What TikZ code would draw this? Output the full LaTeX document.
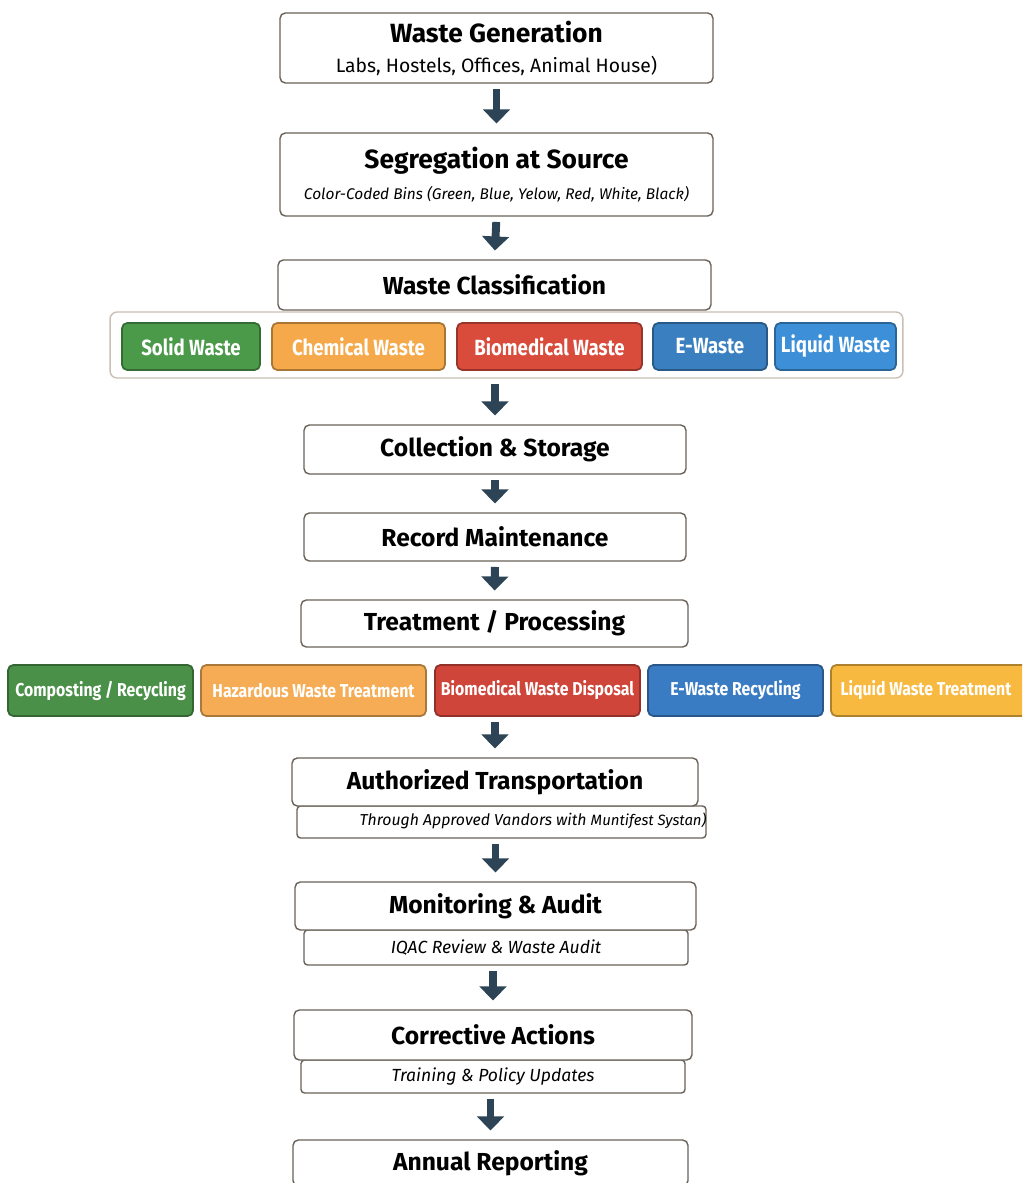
\documentclass[tikz,border=0pt]{standalone}
\usepackage{fontspec}
\setmainfont{Fira Sans}
\newfontfamily\chipfont{Fira Sans}[FakeStretch=0.85]
\usetikzlibrary{arrows.meta}
\usetikzlibrary{positioning}

\definecolor{boxline}{HTML}{6B625A}
\definecolor{barline}{HTML}{C9BFB5}
\definecolor{arrowblue}{HTML}{2C4455}
\definecolor{solidgreen}{HTML}{4A9A4A}
\definecolor{chemorange}{HTML}{F5A94A}
\definecolor{bioRed}{HTML}{D94C3C}
\definecolor{eblue}{HTML}{3A7FC0}
\definecolor{liqblue}{HTML}{3D90D8}
\definecolor{compgreen}{HTML}{4A9048}
\definecolor{hazorange}{HTML}{F5AC55}
\definecolor{dispred}{HTML}{D0453A}
\definecolor{erecblue}{HTML}{3A7CC4}
\definecolor{ltryellow}{HTML}{F7B940}

\begin{document}
\begin{tikzpicture}[x=0.02cm,y=-0.02cm,
  stepbox/.style={draw=boxline,line width=0.8pt,rounded corners=3pt,fill=white,minimum width=8.66cm,align=center,inner sep=2pt},
  subbox/.style={draw=boxline,line width=0.8pt,rounded corners=2pt,fill=white,minimum height=0.66cm,align=center,inner sep=1pt},
  titletext/.style={font=\fontsize{14}{16}\selectfont\bfseries},
  subtext/.style={font=\fontsize{10}{12}\selectfont\itshape},
  chip/.style={draw=#1!70!black,fill=#1,line width=1pt,rounded corners=3pt,text=white,inner sep=1pt},
  bigchip/.style={chip=#1,minimum height=0.94cm,font=\chipfont\fontsize{12.5}{14}\selectfont\bfseries},
  smallchip/.style={chip=#1,minimum height=1.02cm,font=\chipfont\fontsize{10.6}{12}\selectfont\bfseries},
  flowarrow/.style={arrowblue,line width=4.5pt,-{Triangle[width=15pt,length=8pt]},shorten <=3pt,shorten >=5pt}]
\clip (0,0) rectangle (1022,1183);
\useasboundingbox (0,0) rectangle (1022,1183);
\fill[white] (0,0) rectangle (1022,1183);

\node[stepbox,minimum height=1.40cm] (gen) at (496.5,48) {{\fontsize{15}{17}\selectfont\bfseries Waste Generation}\\[5pt]{\fontsize{11}{13}\selectfont Labs, Hostels, Offices, Animal House)}};
\node[stepbox,minimum height=1.66cm] (seg) at (496.5,174.5) {{\fontsize{15}{17}\selectfont\bfseries Segregation at Source}\\[6pt]{\fontsize{8.8}{10}\selectfont\itshape Color-Coded Bins (Green, Blue, Yelow, Red, White, Black)}};
\node[draw=barline,line width=0.8pt,rounded corners=4pt,minimum width=15.86cm,minimum height=1.32cm] (bar) at (506.5,345) {};
\node[stepbox,titletext,minimum height=1.0cm] (class) at (494.5,285) {Waste Classification};

\node[bigchip=solidgreen,minimum width=2.76cm] (solid) at (191,346.5) {Solid Waste};
\node[bigchip=chemorange,minimum width=3.46cm] (chem) at (358.5,346.5) {Chemical Waste};
\node[bigchip=bioRed,minimum width=3.70cm] (bio) at (549.5,346.5) {Biomedical Waste};
\node[bigchip=eblue,minimum width=2.28cm] (ewaste) at (710,346.5) {E-Waste};
\node[bigchip=liqblue,minimum width=2.42cm] (liquid) at (835.5,346.5) {Liquid Waste};

\node[stepbox,titletext,minimum width=7.64cm,minimum height=0.98cm] (coll) at (495,449.5) {Collection \& Storage};
\node[stepbox,titletext,minimum width=7.64cm,minimum height=0.96cm] (rec) at (495,537) {Record Maintenance};
\node[stepbox,titletext,minimum width=7.74cm,minimum height=0.94cm] (treat) at (494.5,623.5) {Treatment / Processing};

\node[smallchip=compgreen,minimum width=3.70cm] (comp) at (100.5,690.5) {Composting / Recycling};
\node[smallchip=hazorange,minimum width=4.50cm] (haz) at (313.5,690.5) {Hazardous Waste Treatment};
\node[smallchip=dispred,minimum width=4.10cm] (disp) at (537.5,690.5) {Biomedical Waste Disposal};
\node[smallchip=erecblue,minimum width=3.50cm] (erec) at (735.5,690.5) {E-Waste Recycling};
\node[smallchip=ltryellow,minimum width=4.08cm] (ltr) at (933,690.5) {\hspace*{-8pt}Liquid Waste Treatment};

\node[subbox,minimum width=8.18cm,minimum height=0.64cm] (transsub) at (501.5,822) {};
\node[font=\fontsize{9}{11}\selectfont\itshape] (transtext) at (533,821) {Through Approved Vandors with {\fontsize{8.5}{10}\selectfont Muntifest Systan)}};
\node[stepbox,titletext,minimum width=8.12cm,minimum height=0.96cm] (trans) at (495,782) {Authorized Transportation};

\node[subbox,subtext,minimum width=7.68cm,minimum height=0.70cm] (monsub) at (496,947.5) {IQAC Review \& Waste Audit};
\node[stepbox,titletext,minimum width=8.02cm,minimum height=0.96cm] (mon) at (495.5,906) {Monitoring \& Audit};

\node[subbox,subtext,minimum width=7.68cm,minimum height=0.66cm] (corrsub) at (493,1076.5) {Training \& Policy Updates};
\node[stepbox,titletext,minimum width=7.96cm,minimum height=1.0cm] (corr) at (493,1035) {Corrective Actions};

\node[stepbox,titletext,minimum width=7.90cm,minimum height=0.92cm] (ann) at (490.5,1163) {Annual Reporting};

\draw[flowarrow] (gen.south) -- (seg.north);
\draw[flowarrow] (seg.south) -- (class.north);
\draw[flowarrow] (bar.south -| coll) -- (coll.north);
\draw[flowarrow] (coll.south) -- (rec.north);
\draw[flowarrow] (rec.south) -- (treat.north);
\draw[flowarrow] (disp.south -| trans) -- (trans.north);
\draw[flowarrow] (transsub.south -| mon) -- (mon.north);
\draw[flowarrow] (monsub.south -| corr) -- (corr.north);
\draw[flowarrow] (corrsub.south -| ann) -- (ann.north);
\end{tikzpicture}
\end{document}
